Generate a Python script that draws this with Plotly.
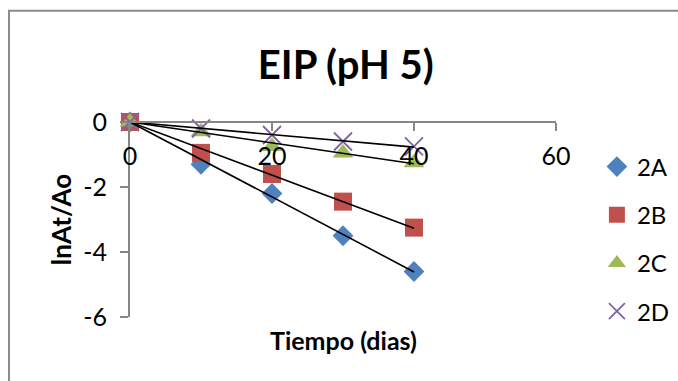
import numpy as np
import plotly.graph_objects as go

# Sampling days and ln(At/Ao) for each sample
dias = [0, 10, 20, 30, 40]
series_names = ["2A", "2B", "2C", "2D"]
val_2a = [0, -1.3, -2.2, -3.5, -4.6]
val_2b = [0, -0.95, -1.6, -2.45, -3.25]
val_2c = [0, -0.3, -0.75, -0.95, -1.25]
val_2d = [0, -0.2, -0.4, -0.6, -0.75]
x_ticks = [0, 20, 40, 60]
y_ticks = [-6, -4, -2, 0]

colors = ["#4F81BD", "#C0504D", "#9BBB59", "#8064A2"]
symbols = ["diamond", "square", "triangle-up", "x-thin-open"]
sizes = [16, 18, 18, 18]
FONT = "Lato"

fig = go.Figure()
all_vals = [val_2a, val_2b, val_2c, val_2d]

for name, vals, col, sym, sz in zip(series_names, all_vals, colors, symbols, sizes):
    marker = dict(color=col, symbol=sym, size=sz)
    if sym == "x-thin-open":
        marker["line"] = dict(color=col, width=1.8)
    fig.add_trace(go.Scatter(
        x=dias, y=vals, mode="markers", name=name, legendgroup=name,
        marker=marker, cliponaxis=False,
    ))

# Linear trendlines forced through the origin
x_arr = np.array(dias, dtype=float)
for vals in all_vals:
    y_arr = np.array(vals, dtype=float)
    slope = float(np.sum(x_arr * y_arr) / np.sum(x_arr ** 2))
    xs = [dias[0], dias[-1]]
    fig.add_trace(go.Scatter(
        x=xs, y=[slope * v for v in xs], mode="lines",
        line=dict(color="black", width=1.6), showlegend=False,
        hoverinfo="skip", cliponaxis=False,
    ))

axis_color = "#868686"
fig.update_layout(
    width=678, height=381,
    margin=dict(l=130, r=122, t=122, b=64, autoexpand=False),
    paper_bgcolor="white", plot_bgcolor="white",
    font=dict(family=FONT, color="black"),
    title=dict(text="<b>EIP (pH 5)</b>", x=0.51, xanchor="center",
               y=0.83, yanchor="middle", font=dict(size=40, family=FONT)),
    xaxis=dict(
        range=[0, 60], tickvals=x_ticks, ticktext=[str(v) for v in x_ticks],
        showgrid=False, zeroline=False,
        showline=True, linecolor=axis_color, linewidth=2,
        ticks="outside", ticklen=8, tickcolor=axis_color, tickwidth=2,
        anchor="free", position=1, side="bottom",
        ticklabelstandoff=4,
        tickfont=dict(size=25, family=FONT),
    ),
    yaxis=dict(
        range=[-6, 0], tickvals=y_ticks, ticktext=[str(v) for v in y_ticks],
        showgrid=False, zeroline=False,
        showline=True, linecolor=axis_color, linewidth=2,
        ticks="outside", ticklen=8, tickcolor=axis_color, tickwidth=2,
        tickfont=dict(size=25, family=FONT), ticklabelstandoff=8,
        title=dict(text="<b>lnAt/Ao</b>", font=dict(size=26, family=FONT), standoff=4),
    ),
    legend=dict(
        x=1.096, xanchor="left", y=0.885, yanchor="top",
        font=dict(size=24, family=FONT), tracegroupgap=14,
        bgcolor="rgba(0,0,0,0)",
    ),
    annotations=[dict(
        text="<b>Tiempo (dias)</b>", xref="paper", yref="paper",
        x=0.502, y=-0.118, xanchor="center", yanchor="middle",
        showarrow=False, font=dict(size=25, family=FONT),
    )],
    shapes=[dict(
        type="rect", xref="paper", yref="paper",
        x0=-0.284, x1=1.35, y0=-0.4, y1=1.57,
        line=dict(color="#8c8c8c", width=2), layer="below",
    )],
)

fig.write_html("out.html")
